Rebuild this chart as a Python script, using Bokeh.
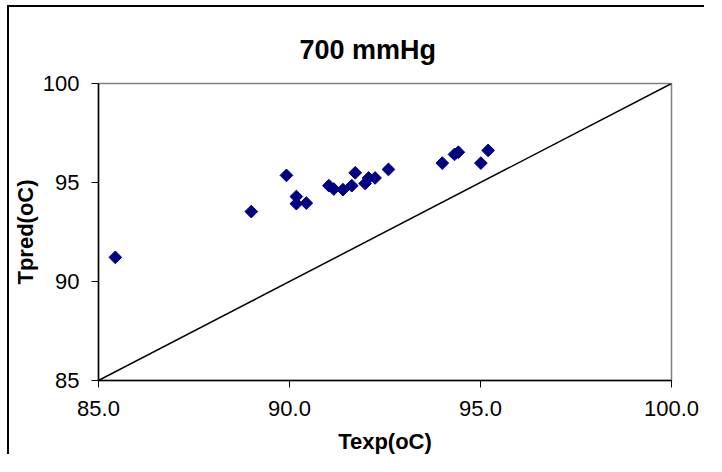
from bokeh.plotting import figure
from bokeh.layouts import column, row
from bokeh.models import Range1d, FixedTicker, NumeralTickFormatter, ColumnDataSource, Spacer
from bokeh.embed import file_html
from bokeh.resources import INLINE
import math

# Data
texp = [85.44, 89.00, 89.92, 90.18, 90.18, 90.44, 91.03, 91.16, 91.40, 91.63,
        91.72, 91.98, 92.07, 92.24, 92.59, 94.00, 94.32, 94.42, 95.01, 95.20]
tpred = [91.22, 93.53, 95.36, 94.29, 93.93, 93.96, 94.84, 94.67, 94.64, 94.84,
         95.49, 94.95, 95.23, 95.23, 95.66, 95.98, 96.42, 96.53, 95.98, 96.62]
diag_x = [85, 100]
diag_y = [85, 100]
x_ticks = [85, 90, 95, 100]
y_ticks = [85, 90, 95, 100]
title_text = "700 mmHg"
x_label = "Texp(oC)"
y_label = "Tpred(oC)"

FONT = "Liberation Sans"
W, H = 697, 449

p = figure(width=W, height=H, output_backend="svg", toolbar_location=None,
           x_range=Range1d(85, 100), y_range=Range1d(85, 100),
           min_border_left=84, min_border_top=76, min_border_right=35, min_border_bottom=76)
p.styles = {"border-left": "2px solid black", "border-top": "2px solid black"}

p.background_fill_color = "white"
p.border_fill_color = "white"
p.outline_line_color = "#808080"
p.outline_line_width = 1.5
p.xgrid.visible = False
p.ygrid.visible = False

for ax, ticks, fmt, lab in ((p.xaxis[0], x_ticks, "0.0", x_label), (p.yaxis[0], y_ticks, "0", y_label)):
    ax.ticker = FixedTicker(ticks=ticks)
    ax.formatter = NumeralTickFormatter(format=fmt)
    ax.axis_line_color = "black"
    ax.axis_line_width = 1.5
    ax.major_tick_line_color = "black"
    ax.major_tick_in = 0
    ax.major_tick_out = 7
    ax.minor_tick_line_color = None
    ax.major_label_text_font = FONT
    ax.major_label_text_font_size = "22px"
    ax.major_label_text_color = "black"
    ax.axis_label = lab
    ax.axis_label_text_font = FONT
    ax.axis_label_text_font_size = "22px"
    ax.axis_label_text_font_style = "bold"
    ax.axis_label_text_color = "black"

p.xaxis[0].major_label_standoff = 13
p.xaxis[0].axis_label_standoff = 10
p.yaxis[0].major_label_standoff = 12
p.yaxis[0].axis_label_standoff = 2

p.title.text = title_text
p.title.text_font = FONT
p.title.text_font_size = "27px"
p.title.text_font_style = "bold"
p.title.text_color = "black"
p.title.align = "left"
p.title.offset = 201
p.title.standoff = 38

p.line(diag_x, diag_y, line_color="black", line_width=1.5)

src = ColumnDataSource(dict(x=texp, y=tpred))
p.scatter("x", "y", source=src, marker="square", size=9, angle=math.pi / 4,
          fill_color="#000080", line_color="#000080")

root = row(Spacer(width=7), column(Spacer(height=5), p))
open("out.html", "w").write(file_html(root, INLINE))
